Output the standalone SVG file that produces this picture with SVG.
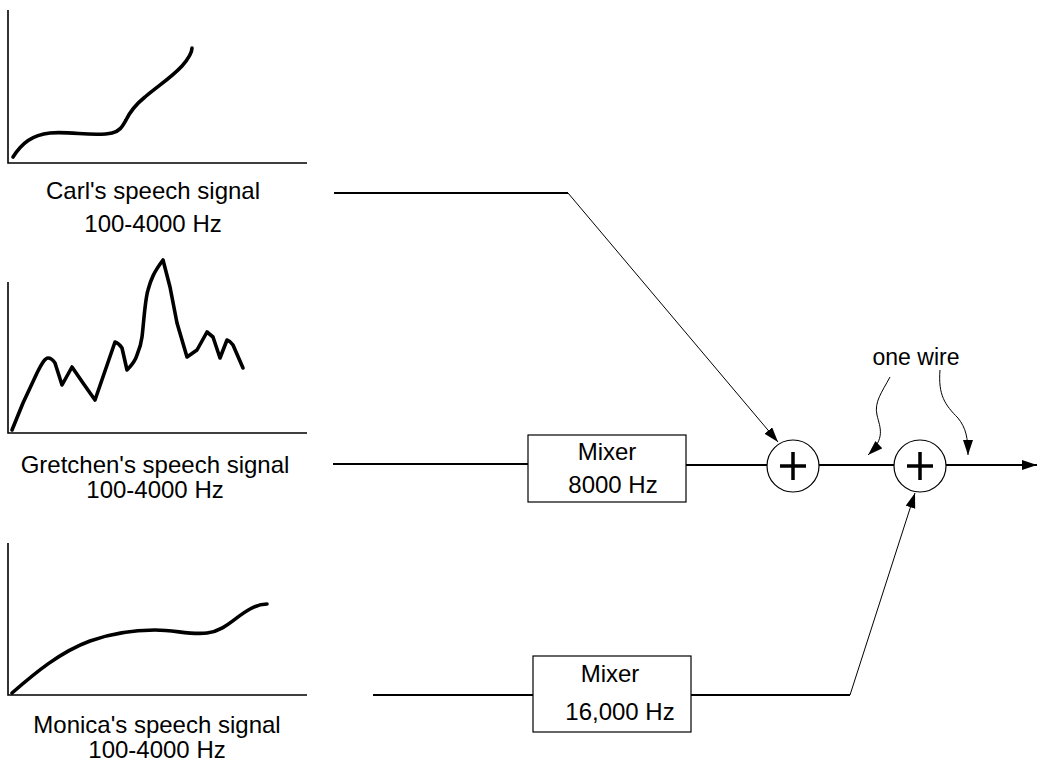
<svg xmlns="http://www.w3.org/2000/svg" width="1040" height="767" viewBox="0 0 1040 767">
<style>
text{font-family:"Liberation Sans",Arial,sans-serif;font-size:24px;fill:#000}
.axis{fill:none;stroke:#000;stroke-width:1.6}
.sig{fill:none;stroke:#000;stroke-width:3.6;stroke-linecap:round;stroke-linejoin:round}
.thick{fill:none;stroke:#000;stroke-width:2}
.thin{fill:none;stroke:#000;stroke-width:1}
.box{fill:#fff;stroke:#000;stroke-width:1.2}
.sum{fill:#fff;stroke:#000;stroke-width:1.2}
.plus{stroke:#000;stroke-width:3.5}
</style>
<defs>
<marker id="ah" markerUnits="userSpaceOnUse" markerWidth="16" markerHeight="11" refX="15" refY="5" orient="auto">
<path d="M0,0 L15,5 L0,10 z" fill="#000"/>
</marker>
</defs>

<g id="carl-graph">
<path class="axis" d="M8,10 V163 H307"/>
<path class="sig" d="M13,157 C22,143 32,135 50,133 C70,131 95,137 112,133 C120,131 122,127 126,120 C130,112 135,105 145,97 C158,86 172,77 182,66 C189,58 192,52 192,48"/>
<text x="153" y="199" text-anchor="middle">Carl's speech signal</text>
<text x="153" y="232" text-anchor="middle">100-4000 Hz</text>
</g>

<g id="gretchen-graph">
<path class="axis" d="M8,282 V433 H307"/>
<path class="sig" d="M12,430 L23,403 L37,373 C42,363 45,358 48,358 C51,358 53,360 55,363 L62,385 L72,367 L83,383 L95,400 L115,342 C118,343 120,345 122,348 L127,370 C131,366 135,362 137,355 C140,348 141,345 142,337 C144,320 145,300 148,290 C151,279 154,272 163,260 L170,287 L177,323 L187,357 L197,350 L207,332 L213,337 L220,358 L227,340 C230,341 231,342 233,345 L243,368"/>
<text x="155" y="473" text-anchor="middle">Gretchen's speech signal</text>
<text x="155" y="498" text-anchor="middle">100-4000 Hz</text>
</g>

<g id="monica-graph">
<path class="axis" d="M8,543 V695 H307"/>
<path class="sig" d="M12,693 C35,673 60,652 90,641 C115,632 135,630 155,630 C175,630 190,635 207,633 C225,631 235,617 250,609 C257,605 262,604 267,604"/>
<text x="157" y="733" text-anchor="middle">Monica's speech signal</text>
<text x="157" y="758" text-anchor="middle">100-4000 Hz</text>
</g>

<g id="connectors">
<path class="thick" d="M334,193 H568"/>
<path class="thin" d="M568,193 L778,442" marker-end="url(#ah)"/>
<path class="thick" d="M333,464 H528"/>
<path class="thick" d="M686,465 H767"/>
<path class="thick" d="M819,465 H894"/>
<path class="thick" d="M946,465 H1037" marker-end="url(#ah)"/>
<path class="thick" d="M373,695 H533"/>
<path class="thick" d="M691,695 H850"/>
<path class="thin" d="M850,695 L915,493" marker-end="url(#ah)"/>
<path class="thin" d="M890,377 C882,392 874,402 877,415 C880,428 886,438 868,455" marker-end="url(#ah)"/>
<path class="thin" d="M940,370 C938,395 945,405 958,418 C966,428 968,438 968,455" marker-end="url(#ah)"/>
</g>

<g id="mixer-8000">
<rect class="box" x="528" y="435" width="158" height="67"/>
<text x="607" y="460" text-anchor="middle">Mixer</text>
<text x="613" y="493" text-anchor="middle">8000 Hz</text>
</g>

<g id="mixer-16000">
<rect class="box" x="533" y="656" width="158" height="76"/>
<text x="610" y="682" text-anchor="middle">Mixer</text>
<text x="620" y="720" text-anchor="middle">16,000 Hz</text>
</g>

<g id="sum1">
<circle class="sum" cx="793" cy="466" r="26"/>
<path class="plus" d="M780,466 H806 M793,452 V480"/>
</g>

<g id="sum2">
<circle class="sum" cx="920" cy="466" r="26"/>
<path class="plus" d="M907,466 H933 M920,452 V480"/>
</g>

<g id="label-one-wire">
<text x="916" y="365" text-anchor="middle" style="font-size:23px">one wire</text>
</g>
</svg>
